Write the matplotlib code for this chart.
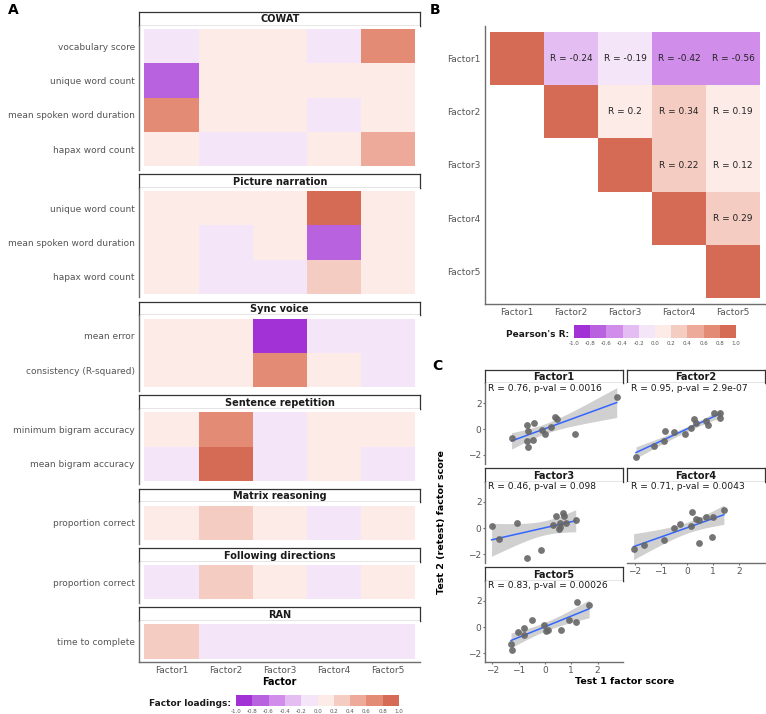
import numpy as np
import matplotlib
matplotlib.use("Agg")
import matplotlib.pyplot as plt
from matplotlib.colors import ListedColormap, BoundaryNorm

# ---------------- data ----------------
factors = ["Factor1", "Factor2", "Factor3", "Factor4", "Factor5"]

tasks = ["COWAT", "Picture narration", "Sync voice", "Sentence repetition",
         "Matrix reasoning", "Following directions", "RAN"]
task_vars = [
    ["vocabulary score", "unique word count", "mean spoken word duration", "hapax word count"],
    ["unique word count", "mean spoken word duration", "hapax word count"],
    ["mean error", "consistency (R-squared)"],
    ["minimum bigram accuracy", "mean bigram accuracy"],
    ["proportion correct"],
    ["proportion correct"],
    ["time to complete"],
]
loadings = [
    [[-0.1, 0.1, 0.1, -0.1, 0.7],
     [-0.7, 0.1, 0.1, 0.1, 0.1],
     [0.7, 0.1, 0.1, -0.1, 0.1],
     [0.1, -0.1, -0.1, 0.1, 0.5]],
    [[0.1, 0.1, 0.1, 0.9, 0.1],
     [0.1, -0.1, 0.1, -0.7, 0.1],
     [0.1, -0.1, -0.1, 0.3, 0.1]],
    [[0.1, 0.1, -0.9, -0.1, -0.1],
     [0.1, 0.1, 0.7, 0.1, -0.1]],
    [[0.1, 0.7, -0.1, 0.1, 0.1],
     [-0.1, 0.9, -0.1, 0.1, -0.1]],
    [[0.1, 0.3, 0.1, -0.1, 0.1]],
    [[-0.1, 0.3, 0.1, -0.1, 0.1]],
    [[0.3, -0.1, -0.1, -0.1, -0.1]],
]

# upper triangle of factor correlations (row i, col j, R)
corr_pairs = [(0, 1, -0.24), (0, 2, -0.19), (0, 3, -0.42), (0, 4, -0.56),
              (1, 2, 0.2), (1, 3, 0.34), (1, 4, 0.19),
              (2, 3, 0.22), (2, 4, 0.12),
              (3, 4, 0.29)]

# test / retest factor scores
test1 = {
    "Factor1": [-1.27, -0.70, -0.41, -0.66, -0.70, -0.66, -0.44, -0.10, 0.00, 0.22, 0.38, 0.47, 1.14, 2.73],
    "Factor2": [-1.95, -1.26, -0.88, -0.85, -0.51, -0.06, 0.15, 0.25, 0.35, 0.73, 0.82, 1.03, 1.28, 1.26],
    "Factor3": [-2.03, -1.75, -1.08, -0.70, -0.15, 0.29, 0.42, 0.57, 0.57, 0.54, 0.70, 0.72, 0.80, 1.17],
    "Factor4": [-2.04, -1.64, -0.88, -0.51, -0.25, 0.15, 0.19, 0.35, 0.44, 0.44, 0.72, 0.94, 0.98, 1.41],
    "Factor5": [-1.29, -1.24, -1.04, -0.79, -0.80, -0.51, -0.03, 0.03, 0.10, 0.61, 0.92, 1.20, 1.23, 1.68],
}
test2 = {
    "Factor1": [-0.65, 0.33, 0.51, -0.18, -0.95, -1.38, -0.82, -0.10, -0.36, 0.15, 0.97, 0.77, -0.36, 2.51],
    "Factor2": [-2.15, -1.34, -0.88, -0.18, -0.26, -0.38, 0.12, 0.77, 0.46, 0.66, 0.33, 1.23, 1.23, 0.89],
    "Factor3": [0.12, -0.86, 0.39, -2.33, -1.69, 0.26, 0.95, 0.39, 0.08, -0.08, 1.16, 0.95, 0.39, 0.64],
    "Factor4": [-1.60, -1.29, -0.91, 0.00, 0.31, 0.18, 1.24, 0.70, 0.64, -1.16, 0.85, -0.65, 0.85, 1.36],
    "Factor5": [-1.28, -1.74, -0.38, -0.08, -0.58, 0.52, 0.13, -0.33, -0.20, -0.20, 0.57, 0.38, 1.92, 1.67],
}
stat_labels = {
    "Factor1": "R = 0.76, p-val = 0.0016",
    "Factor2": "R = 0.95, p-val = 2.9e-07",
    "Factor3": "R = 0.46, p-val = 0.098",
    "Factor4": "R = 0.71, p-val = 0.0043",
    "Factor5": "R = 0.83, p-val = 0.00026",
}

# ---------------- style ----------------
pal = ['#A232D6', '#B962E0', '#D08EEA', '#E4BEF2', '#F5E5F9',
       '#FCEBE7', '#F5CCC2', '#EDAA9A', '#E38B74', '#D66B55']
cmap = ListedColormap(pal)
bounds = np.linspace(-1, 1, 11)
norm = BoundaryNorm(bounds, cmap.N)
txt_gray = '#555555'
axis_gray = '#6e6e6e'

W, H = 766, 714
fig = plt.figure(figsize=(W / 100, H / 100), dpi=100)


def box(x0, y0, x1, y1):
    return [x0 / W, 1 - y1 / H, (x1 - x0) / W, (y1 - y0) / H]


def fig_text(x, y, s, **kw):
    fig.text(x / W, 1 - y / H, s, **kw)


def strip(x0, y0, x1, y1, label):
    sa = fig.add_axes(box(x0, y0, x1, y1))
    sa.set_xticks([])
    sa.set_yticks([])
    for sp in sa.spines.values():
        sp.set_color('#333333')
        sp.set_linewidth(0.9)
    sa.text(0.5, 0.45, label, ha='center', va='center', fontsize=7,
            fontweight='bold', color='#1a1a1a', transform=sa.transAxes)


def clean(ax, left=True, bottom=False):
    for k in ['top', 'right']:
        ax.spines[k].set_visible(False)
    ax.spines['left'].set_visible(left)
    ax.spines['bottom'].set_visible(bottom)
    for k in ['left', 'bottom']:
        ax.spines[k].set_color(axis_gray)
        ax.spines[k].set_linewidth(1.0)


def legend_bar(x0, y0, x1, y1, title, ticks=True):
    la = fig.add_axes(box(x0, y0, x1, y1))
    la.pcolormesh(bounds, [0, 1], ((bounds[:-1] + bounds[1:]) / 2)[None, :],
                  cmap=cmap, norm=norm)
    la.set_xlim(-1, 1)
    la.set_ylim(0, 1)
    la.axis('off')
    fig_text(x0 - 5, (y0 + y1) / 2 + 3, title, ha='right', va='center',
             fontsize=6.5, fontweight='bold', color='#1a1a1a')
    if ticks:
        for v in bounds:
            la.text(v, -0.25, f"{v:.1f}", ha='center', va='top', fontsize=4,
                    color=txt_gray, transform=la.transData)


# ---------------- panel A ----------------
row_h, strip_h, pad, gap = 34.3, 13.5, 6.9, 4.5
xa0, xa1 = 139, 420.4
y = 12
for t, (task, vars_, L) in enumerate(zip(tasks, task_vars, loadings)):
    n = len(vars_)
    strip(xa0, y, xa1, y + strip_h, task)
    top = y + strip_h
    bot = top + n * row_h + pad
    ax = fig.add_axes(box(xa0, top, xa1, bot))
    ax.pcolormesh(np.arange(0.5, 6.5), np.arange(0.5, n + 1.5), np.array(L),
                  cmap=cmap, norm=norm)
    ax.set_xlim(0.4, 5.6)
    ax.set_ylim(n + 0.6, 0.4)
    ax.set_yticks(range(1, n + 1))
    ax.set_yticklabels(vars_, fontsize=6.5, color=txt_gray)
    last = t == len(tasks) - 1
    clean(ax, left=True, bottom=last)
    ax.tick_params(length=0, pad=3)
    if last:
        ax.set_xticks(range(1, 6))
        ax.set_xticklabels(factors, fontsize=6.5, color=txt_gray)
        ax.set_xlabel("Factor", fontsize=7, fontweight='bold', labelpad=1)
    else:
        ax.set_xticks([])
    y = bot + gap

legend_bar(236, 695, 399, 706, "Factor loadings:")
fig_text(8, 10, "A", fontsize=10, fontweight='bold', va='center')

# ---------------- panel B ----------------
axb = fig.add_axes(box(484.6, 26.4, 765.4, 303.6))
C = np.full((5, 5), np.nan)
for i in range(5):
    C[i, i] = 1.0
for i, j, r in corr_pairs:
    C[i, j] = r
axb.pcolormesh(np.arange(0.5, 6.5), np.arange(0.5, 6.5), np.ma.masked_invalid(C),
               cmap=cmap, norm=norm)
for i, j, r in corr_pairs:
    axb.text(j + 1, i + 1, f"R = {r:g}", ha='center', va='center', fontsize=6.5,
             color='#222222')
axb.set_xlim(0.4, 5.6)
axb.set_ylim(5.6, 0.4)
axb.set_xticks(range(1, 6))
axb.set_xticklabels(factors, fontsize=6.5, color=txt_gray)
axb.set_yticks(range(1, 6))
axb.set_yticklabels(factors, fontsize=6.5, color=txt_gray)
axb.tick_params(length=0, pad=3)
clean(axb, left=True, bottom=True)
legend_bar(574, 325, 736, 337.5, "Pearson's R:")
fig_text(430, 10, "B", fontsize=10, fontweight='bold', va='center')

# ---------------- panel C ----------------
cols = [(485, 623.3), (627.3, 765)]
rows = [(383.3, 464), (481.7, 563.3), (580.7, 662.3)]
t_crit = 2.179  # t(0.975, df=12)
for k, f in enumerate(factors):
    r, c = divmod(k, 2)
    x0, x1 = cols[c]
    y0, y1 = rows[r]
    strip(x0, y0 - 13.4, x1, y0, f)
    ax = fig.add_axes(box(x0, y0, x1, y1))
    xs = np.array(test1[f])
    ys = np.array(test2[f])
    b, a = np.polyfit(xs, ys, 1)
    n = len(xs)
    xg = np.linspace(xs.min(), xs.max(), 80)
    yg = a + b * xg
    s = np.sqrt(np.sum((ys - (a + b * xs)) ** 2) / (n - 2))
    se = s * np.sqrt(1 / n + (xg - xs.mean()) ** 2 / np.sum((xs - xs.mean()) ** 2))
    ax.fill_between(xg, yg - t_crit * se, yg + t_crit * se, color='#d0d0d0',
                    lw=0, zorder=1)
    ax.plot(xg, yg, color='#3366FF', lw=1.1, zorder=2)
    ax.scatter(xs, ys, s=24, color='#666666', alpha=0.9, lw=0, zorder=3)
    ax.text(0.025, 0.94, stat_labels[f], transform=ax.transAxes, fontsize=6.6,
            ha='left', va='center', color='#1a1a1a')
    ax.set_xlim(-2.28, 2.98)
    ax.set_ylim(-2.7, 3.55)
    left = c == 0
    bottom = f in ("Factor4", "Factor5")
    clean(ax, left=left, bottom=bottom)
    ax.tick_params(length=1.5, width=0.8, color=axis_gray, labelsize=6.5,
                   labelcolor=txt_gray, pad=1)
    if left:
        ax.set_yticks([-2, 0, 2])
    else:
        ax.set_yticks([])
    if bottom:
        ax.set_xticks([-2, -1, 0, 1, 2])
    else:
        ax.set_xticks([])

fig_text(625, 681, "Test 1 factor score", ha='center', va='center',
         fontsize=6.8, fontweight='bold')
fig_text(441, 522, "Test 2 (retest) factor score", ha='center', va='center',
         fontsize=6.8, fontweight='bold', rotation=90)
fig_text(432, 366, "C", fontsize=10, fontweight='bold', va='center')

fig.savefig("out.png", dpi=100)
